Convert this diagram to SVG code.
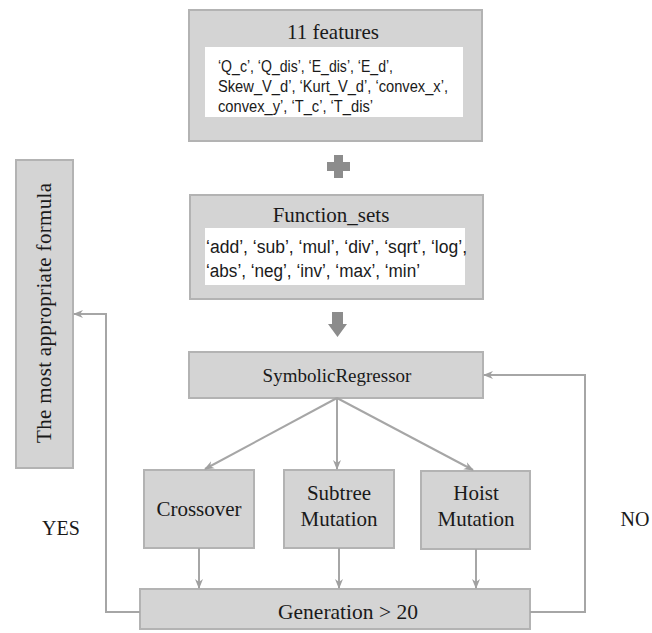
<svg xmlns="http://www.w3.org/2000/svg" width="652" height="633" viewBox="0 0 652 633">
<style>
.box{fill:#d4d4d4;stroke:#b3b3b3;stroke-width:2}
.inner{fill:#ffffff;stroke:none}
.ser{font-family:"Liberation Serif","Times New Roman",serif;fill:#1a1a1a}
.san{font-family:"Liberation Sans",Arial,sans-serif;fill:#1a1a1a}
.ln{fill:none;stroke:#a6a6a6;stroke-width:2}
.sym{fill:#8c8c8c}
</style>
<defs>
<marker id="ah" markerWidth="10" markerHeight="10" refX="9" refY="5" orient="auto" markerUnits="userSpaceOnUse">
<path d="M0,1 L10,5 L0,9 L3,5 z" fill="#a0a0a0"/>
</marker>
</defs>
<rect width="652" height="633" fill="#ffffff"/>

<g id="features">
<rect class="box" x="189" y="10" width="293" height="131"/>
<rect class="inner" x="205" y="47" width="258" height="70"/>
<text class="ser" x="333" y="39" font-size="21" text-anchor="middle">11 features</text>
<text class="san" x="218" y="72" font-size="16" textLength="175" lengthAdjust="spacingAndGlyphs">‘Q_c’, ‘Q_dis’, ‘E_dis’, ‘E_d’,</text>
<text class="san" x="218" y="92" font-size="16" textLength="230" lengthAdjust="spacingAndGlyphs">Skew_V_d’, ‘Kurt_V_d’, ‘convex_x’,</text>
<text class="san" x="218" y="112" font-size="16" textLength="155" lengthAdjust="spacingAndGlyphs">convex_y’, ‘T_c’, ‘T_dis’</text>
</g>

<g id="plus">
<path class="sym" d="M334,155 H343 V162 H350 V171 H343 V178 H334 V171 H327 V162 H334 Z"/>
</g>

<g id="function_sets">
<rect class="box" x="190" y="195" width="293" height="104"/>
<rect class="inner" x="205" y="228" width="260" height="57"/>
<text class="ser" x="331" y="222" font-size="21" text-anchor="middle">Function_sets</text>
<text class="san" x="206" y="253" font-size="18" textLength="261" lengthAdjust="spacingAndGlyphs">‘add’, ‘sub’, ‘mul’, ‘div’, ‘sqrt’, ‘log’,</text>
<text class="san" x="206" y="277" font-size="18" textLength="214" lengthAdjust="spacingAndGlyphs">‘abs’, ‘neg’, ‘inv’, ‘max’, ‘min’</text>
</g>

<g id="down_arrow">
<path class="sym" d="M332,312 H343 V324 H347 L337.5,337 L328,324 H332 Z"/>
</g>

<g id="symbolic">
<rect class="box" x="189" y="352" width="294" height="46"/>
<text class="ser" x="337" y="382" font-size="19" text-anchor="middle">SymbolicRegressor</text>
</g>

<g id="crossover">
<rect class="box" x="144" y="470" width="110" height="78"/>
<text class="ser" x="199" y="516" font-size="21" text-anchor="middle">Crossover</text>
</g>

<g id="subtree">
<rect class="box" x="284" y="470" width="110" height="78"/>
<text class="ser" x="339" y="500" font-size="21" text-anchor="middle">Subtree</text>
<text class="ser" x="339" y="526" font-size="21" text-anchor="middle">Mutation</text>
</g>

<g id="hoist">
<rect class="box" x="421" y="471" width="109" height="78"/>
<text class="ser" x="476" y="500" font-size="21" text-anchor="middle">Hoist</text>
<text class="ser" x="476" y="526" font-size="21" text-anchor="middle">Mutation</text>
</g>

<g id="generation">
<rect class="box" x="140" y="589" width="390" height="40"/>
<text class="ser" x="348" y="619" font-size="21.5" text-anchor="middle">Generation &gt; 20</text>
</g>

<g id="formula">
<rect class="box" x="16" y="160" width="57" height="308"/>
<text class="ser" transform="translate(51,313) rotate(-90)" x="0" y="0" font-size="21" text-anchor="middle" textLength="260" lengthAdjust="spacing">The most appropriate formula</text>
</g>

<g id="labels">
<text class="ser" x="61" y="535" font-size="20" text-anchor="middle">YES</text>
<text class="ser" x="635" y="526" font-size="20" text-anchor="middle">NO</text>
</g>

<g id="connectors">
<line class="ln" x1="337" y1="398" x2="205" y2="469" marker-end="url(#ah)"/>
<line class="ln" x1="337" y1="398" x2="337" y2="469" marker-end="url(#ah)"/>
<line class="ln" x1="337" y1="398" x2="473" y2="470" marker-end="url(#ah)"/>
<line class="ln" x1="199" y1="548" x2="199" y2="588" marker-end="url(#ah)"/>
<line class="ln" x1="339" y1="548" x2="339" y2="588" marker-end="url(#ah)"/>
<line class="ln" x1="476" y1="549" x2="476" y2="588" marker-end="url(#ah)"/>
<polyline class="ln" points="140,612 106,612 106,314 74,314" marker-end="url(#ah)"/>
<polyline class="ln" points="530,612 585,612 585,375 484,375" marker-end="url(#ah)"/>
</g>
</svg>
